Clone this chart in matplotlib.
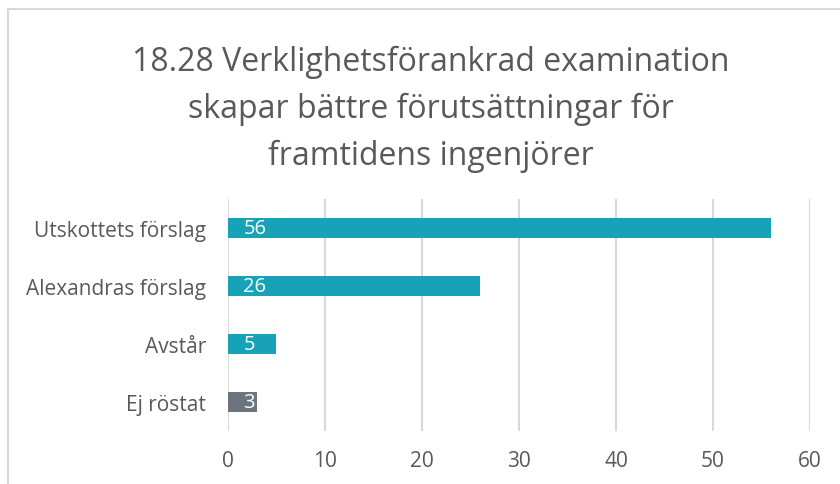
import matplotlib
matplotlib.use("Agg")
import matplotlib.pyplot as plt
from matplotlib.patches import Rectangle

plt.rcParams['font.family'] = ['Open Sans', 'DejaVu Sans']

categories = ["Utskottets förslag", "Alexandras förslag", "Avstår", "Ej röstat"]
values = [56, 26, 5, 3]
bar_colors = ["#17A2B8", "#17A2B8", "#17A2B8", "#6C757D"]
xticks = [0, 10, 20, 30, 40, 50, 60]
title = "18.28 Verklighetsförankrad examination\nskapar bättre förutsättningar för\nframtidens ingenjörer"

fig = plt.figure(figsize=(8.4, 4.85), dpi=100)
fig.patches.append(Rectangle((8/840, -0.1), 1.2, 1 - 10/485 + 0.1, transform=fig.transFigure,
                             fill=False, edgecolor="#D9D9D9", linewidth=1.5))

ax = fig.add_axes([228/840, 1 - 432/485, (810 - 228)/840, 232/485])
ypos = list(range(len(categories)))
ax.barh(ypos, values, height=0.36, color=bar_colors, zorder=3)
ax.set_ylim(len(categories) - 0.5, -0.5)
ax.set_xlim(0, 60)
ax.set_xticks(xticks)
ax.set_yticks(ypos)
ax.set_yticklabels(categories)
for s in ax.spines.values():
    s.set_visible(False)
ax.grid(axis='x', color="#D9D9D9", linewidth=1.5, zorder=0)
ax.tick_params(axis='both', length=0, labelsize=15, labelcolor="#595959")
ax.tick_params(axis='x', pad=14)
ax.tick_params(axis='y', pad=16)
for y, v in zip(ypos, values):
    ax.annotate(str(v), (0, y), xytext=(11, 0), textcoords='offset points',
                ha='left', va='center', color='white', fontsize=14.5, zorder=4)

fig.text(431/840, 1 - 109/485, title, ha='center', va='center', fontsize=23,
         color="#595959", linespacing=1.55)

fig.savefig("out.png", dpi=100)
